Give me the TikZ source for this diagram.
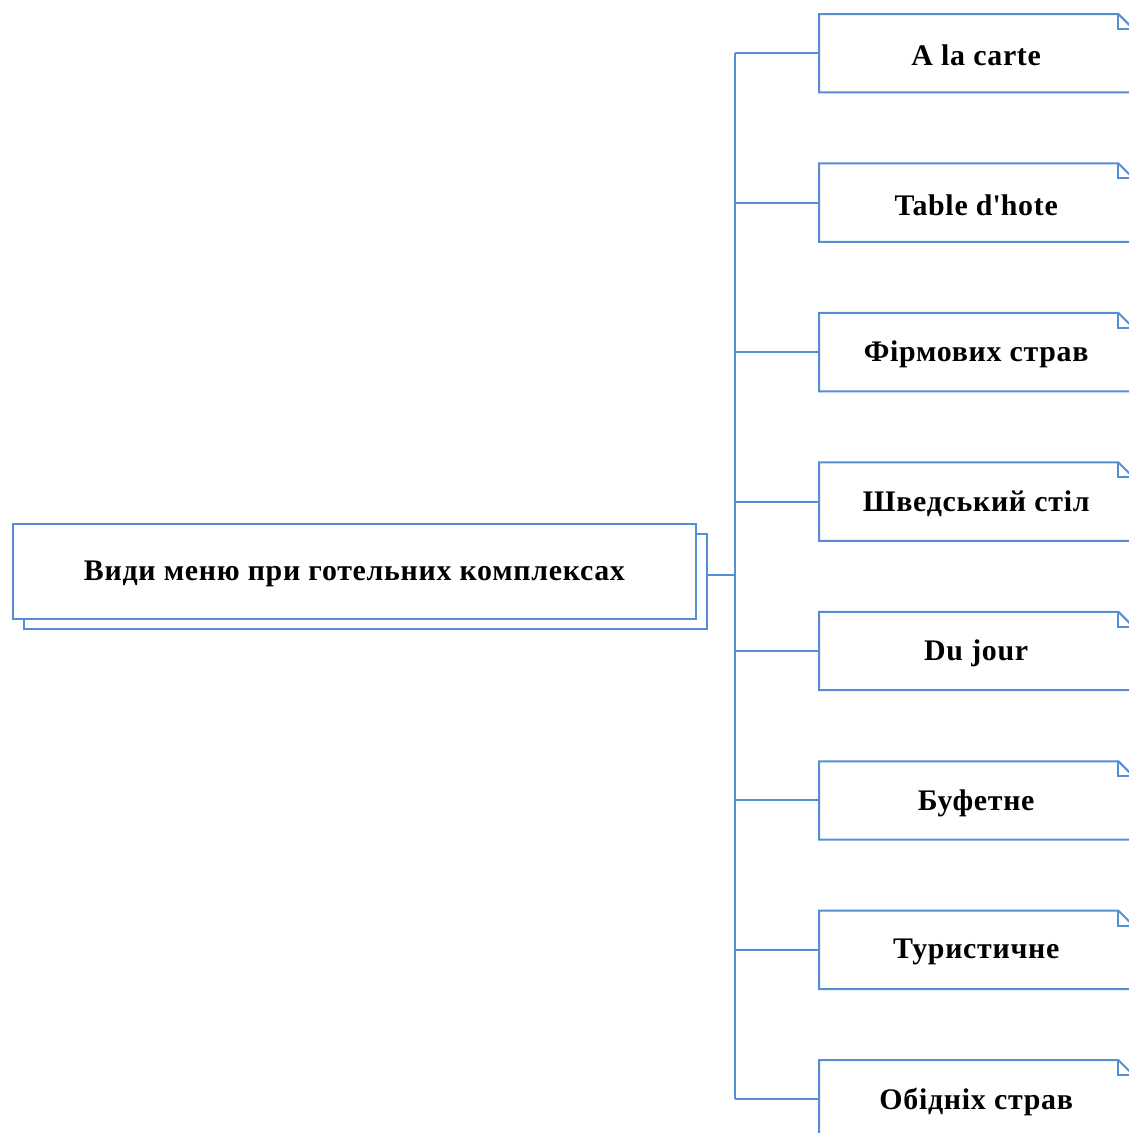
\documentclass[tikz,border=0pt]{standalone}
\usepackage{fontspec}
\setmainfont{Liberation Serif}
\newfontfamily\labelfont[LetterSpace=2.4]{Liberation Serif}
\usetikzlibrary{calc}
\definecolor{linkblue}{RGB}{85,142,213}
% drop the text a little without changing the box it occupies
\newcommand{\lowered}[1]{\raisebox{-2.5bp}[\height][\depth]{#1}}
\tikzset{
  every picture/.style={x=1bp,y=-1bp},
  wire/.style={draw=linkblue,line width=2bp},
  rootbox/.style={draw=linkblue,line width=2bp,fill=white,minimum width=683bp,minimum height=95bp,
    inner sep=0pt,anchor=north west,font=\labelfont\fontsize{30}{34}\selectfont\bfseries},
  shadowbox/.style={draw=linkblue,line width=2bp,minimum width=683bp,minimum height=95bp,
    inner sep=0pt,anchor=north west},
  itembox/.style={draw=none,minimum width=314bp,minimum height=78bp,inner sep=0pt,
    anchor=north west,font=\labelfont\fontsize{30}{34}\selectfont\bfseries},
  noteline/.style={draw=linkblue,line width=2bp,line join=miter}
}
\begin{document}
\begin{tikzpicture}
\useasboundingbox (0,0) rectangle (1129,1133);
\clip (0,0) rectangle (1129,1133);

% root with its offset copy behind it
\node[shadowbox] (shadow) at (23,533) {};
\node[rootbox] (root) at (12,523) {\lowered{Види меню при готельних комплексах}};

% junction on the bus line
\coordinate (joint) at (735,575);

% menu types as folded-corner notes
\foreach \label [count=\i] in {A la carte,Table d\textquotesingle hote,Фірмових страв,Шведський стіл,Du jour,Буфетне,Туристичне,Обідніх страв}{
  \pgfmathsetmacro{\top}{14+(\i-1)*149.45}
  \node[itembox] (item\i) at (819,\top) {\lowered{\label}};
  \draw[noteline] (item\i.south east) -- ($(item\i.north east)+(0,15)$)
        -- ($(item\i.north east)+(-15,0)$) -- (item\i.north west)
        -- (item\i.south west) -- cycle;
  \draw[noteline] ($(item\i.north east)+(-15,0)$) -- ($(item\i.north east)+(-15,15)$)
        -- ($(item\i.north east)+(0,15)$);
}

% connectors
\draw[wire] (shadow.east |- joint) -- (joint);
\draw[wire] (item1.west -| joint) -- (item8.west -| joint);
\foreach \i in {1,...,8}{
  \draw[wire] (item\i.west -| joint) -- (item\i.west);
}
\end{tikzpicture}
\end{document}
